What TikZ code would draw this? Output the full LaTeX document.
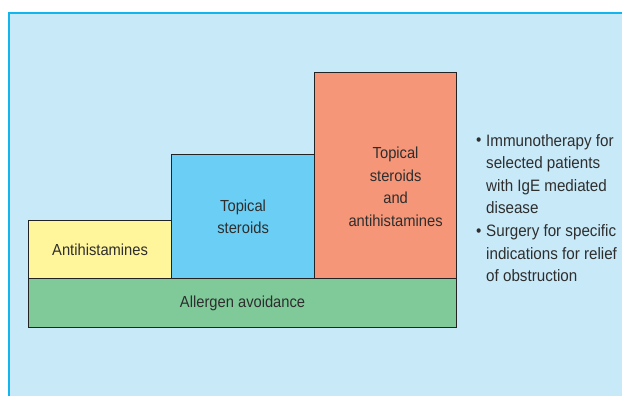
\documentclass[tikz,border=0pt]{standalone}
\usepackage{fontspec}
\setmainfont{Liberation Sans}[FakeStretch=0.92]
\usetikzlibrary{positioning}
\definecolor{panelfill}{HTML}{C8E9F8}
\definecolor{panelline}{HTML}{12B5EE}
\definecolor{boxline}{HTML}{232323}
\definecolor{txt}{HTML}{2E2E2E}
\definecolor{tieryellow}{HTML}{FFF59A}
\definecolor{tierblue}{HTML}{6BCFF5}
\definecolor{tierorange}{HTML}{F59678}
\definecolor{tiergreen}{HTML}{80CA9A}

\begin{document}
\begin{tikzpicture}[x=1pt,y=-1pt,
    tier/.style={draw=boxline,line width=1.2pt,inner sep=0pt,anchor=north west,
      align=center,text=txt,font=\fontsize{16}{22.6}\selectfont},
    note/.style={inner sep=0pt,anchor=base west,align=left,text=txt,
      font=\fontsize{16.5}{22.6}\selectfont}]
                % Frame
                \useasboundingbox (0,0) rectangle (622,396);
                \fill[panelfill] (9,13) rectangle (622,396);
                \draw[panelline,line width=1.2pt] (9,396) -- (9,13) -- (622,13);

                % Steps of treatment
                \node[tier,fill=tiergreen,minimum width=428pt,minimum height=49pt] (avoid) at (28,278) {Allergen avoidance};
                \node[tier,fill=tieryellow,minimum width=143pt,minimum height=58pt] (antihist) at (28,220) {Antihistamines};
                \node[tier,fill=tierblue,minimum width=143pt,minimum height=124pt] (steroids) at (171,154) {Topical\\steroids};
                \node[tier,fill=tierorange,minimum width=142pt,minimum height=206pt] (combo) at (314,72) {};
                \node[text=txt,align=center,font=\fontsize{16}{22.6}\selectfont] (combotext) at ([shift={(10,11)}]combo.center) {Topical\\steroids\\and\\antihistamines};

                % Other options (base anchor sits on the last line)
                \node[note] (dot1) at (476,146) {\textbullet};
                \node[note] (immuno) at (486,213.8) {Immunotherapy for\\selected patients\\with IgE mediated\\disease};
                \node[note] (dot2) at (476,236.4) {\textbullet};
                \node[note] (surgery) at (486,281.6) {Surgery for specific\\indications for relief\\of obstruction};
            \end{tikzpicture}
\end{document}
